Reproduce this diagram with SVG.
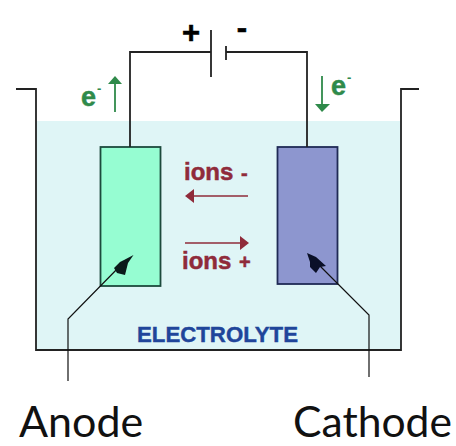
<svg xmlns="http://www.w3.org/2000/svg" width="456" height="446" viewBox="0 0 456 446">
<style>
.w{fill:none;stroke:#222;stroke-width:1.8}
.p{fill:none;stroke:#111;stroke-width:1.2}
.g{fill:#2f8a4a;stroke:#2f8a4a;stroke-width:.5;font:bold 27px "Liberation Sans",sans-serif}
.gm{fill:#2f8a4a;font:bold 13px "Liberation Sans",sans-serif}
.gs{fill:none;stroke:#2f8a4a;stroke-width:1.8}
.r{fill:#8f2b3a;stroke:#8f2b3a;stroke-width:.5;font:bold 24px "Liberation Sans",sans-serif}
.rs{fill:none;stroke:#8f2b3a;stroke-width:1.6}
.l{fill:#111;font:43px "Lato",sans-serif}
.b{fill:#000;stroke:#000;stroke-width:.6;font:bold 31px "Liberation Sans",sans-serif;text-anchor:middle}
</style>
<rect width="456" height="446" fill="#fff"/>
<rect id="electrolyte" x="36" y="121" width="365" height="229" fill="#dff5f6"/>
<g id="tank"><path class="w" d="M16 89H36V350H401V89H419"/></g>
<g id="anode"><rect x="100.500" y="147" width="60" height="139" fill="#96fdd2" stroke="#1c4a3c" stroke-width="1.800"/></g>
<g id="cathode"><rect x="277.500" y="147" width="60" height="137" fill="#8d96cf" stroke="#1f2a55" stroke-width="1.800"/></g>
<g id="connectors">
<path class="w" d="M130 147V52H211M226 52H307V147"/>
<path class="w" d="M211 30V77M226 46V60"/>
<path class="p" d="M68 381V319L122 264"/>
<path d="M133.500 255L128 263L125 275L117 273L114 268L120 262L124 260Z" fill="#0a1a1a"/>
<path class="p" d="M369 377V315L318 264"/>
<path d="M307 253L316 257L326 266L320 267L316 273L310 267L310 262Z" fill="#0a1028"/>
<path class="gs" d="M115 112V84"/><path d="M115 76L122 84H108Z" fill="#2f8a4a"/>
<path class="gs" d="M322 76V104"/><path d="M322 112L315 104H330Z" fill="#2f8a4a"/>
<path class="rs" d="M248 196H192"/><path d="M185 196L194 189V203Z" fill="#8f2b3a"/>
<path class="rs" d="M185 243H241"/><path d="M249 243L240 236V250Z" fill="#8f2b3a"/>
</g>
<g id="labels">
<text class="b" x="191" y="43">+</text>
<text class="b" x="242" y="38">-</text>
<text class="g" x="81" y="106">e</text><text class="gm" x="97" y="93">-</text>
<text class="g" x="331" y="95">e</text><text class="gm" x="347" y="82">-</text>
<text class="r" x="184" y="180">ions</text><text class="r" x="241" y="180" style="font-size:20px">-</text>
<text class="r" x="182" y="269">ions</text><text class="r" x="239" y="269" style="font-size:20px">+</text>
<text x="137" y="342" stroke="#20459a" stroke-width=".4" style="font:bold 22px 'Liberation Sans',sans-serif" fill="#20459a" textLength="161" lengthAdjust="spacingAndGlyphs">ELECTROLYTE</text>
<text class="l" x="19" y="437">Anode</text>
<text class="l" x="293" y="437" textLength="159" lengthAdjust="spacingAndGlyphs">Cathode</text>
</g>
</svg>
